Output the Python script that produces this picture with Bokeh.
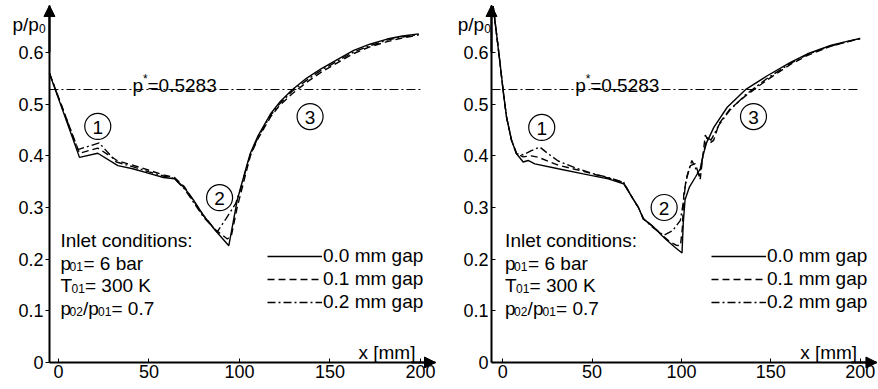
from bokeh.plotting import figure
from bokeh.layouts import row
from bokeh.models import Range1d, FixedTicker, Label, Arrow, NormalHead
from bokeh.embed import file_html
from bokeh.resources import INLINE

FONT = "Liberation Sans"

# ---------------- data ----------------
series_labels = ["0.0 mm gap", "0.1 mm gap", "0.2 mm gap"]
x_ticks = [0, 50, 100, 150, 200]
y_ticks = [0, 0.1, 0.2, 0.3, 0.4, 0.5, 0.6]
y_tick_labels = ["0", "0.1", "0.2", "0.3", "0.4", "0.5", "0.6"]
p_star = 0.5283

# left panel
xL0 = [-5, 11.6, 21.7, 32.8, 41, 50, 58, 64.1, 69.6, 74.8, 80, 86.7, 94.1, 98.7, 103.3, 106, 110, 117.1, 122, 129.1, 137, 144.8, 155, 163.1, 172, 181.6, 190, 199]
yL0 = [0.56, 0.397, 0.405, 0.381, 0.375, 0.366, 0.358, 0.3555, 0.338, 0.3135, 0.285, 0.2555, 0.226, 0.3135, 0.372, 0.405, 0.437, 0.481, 0.503, 0.528, 0.550, 0.568, 0.588, 0.604, 0.616, 0.626, 0.632, 0.636]
xL1 = [-5, 11.6, 21.7, 32.8, 41, 50, 58, 64.1, 69.6, 74.8, 80, 86.7, 93.3, 95.5, 98.7, 103.3, 106, 110, 117.1, 122, 129.1, 137, 144.8, 155, 163.1, 172, 181.6, 190, 199]
yL1 = [0.56, 0.405, 0.415, 0.39, 0.382, 0.372, 0.363, 0.358, 0.34, 0.312, 0.285, 0.257, 0.239, 0.245, 0.30, 0.363, 0.40, 0.432, 0.475, 0.497, 0.52, 0.542, 0.561, 0.582, 0.598, 0.611, 0.621, 0.628, 0.634]
xL2 = [-5, 10.7, 22.5, 32, 41, 50, 58, 64.1, 69.6, 74.8, 80, 87.7, 92.5, 97.8, 100.5, 103.3, 106, 110, 117.1, 122, 129.1, 137, 144.8, 155, 163.1, 172, 181.6, 190, 199]
yL2 = [0.56, 0.412, 0.425, 0.388, 0.379, 0.369, 0.361, 0.356, 0.336, 0.309, 0.282, 0.253, 0.278, 0.307, 0.335, 0.37, 0.402, 0.434, 0.478, 0.50, 0.525, 0.546, 0.565, 0.585, 0.601, 0.613, 0.624, 0.630, 0.635]

# right panel
xR0 = [-5.4, -3.5, -1.7, 0.2, 2.1, 4.9, 7.7, 11.4, 14.2, 17.9, 31, 45, 59, 67.6, 72.3, 75.9, 78.7, 84.5, 89, 92, 96, 100.3, 101, 102, 104.5, 108, 110.5, 112, 114, 118.1, 125.6, 135.8, 148, 161, 170.3, 183.4, 192, 200]
yR0 = [0.69, 0.636, 0.584, 0.526, 0.475, 0.43, 0.404, 0.388, 0.391, 0.3845, 0.375, 0.365, 0.3555, 0.346, 0.32, 0.30, 0.278, 0.262, 0.246, 0.236, 0.224, 0.212, 0.27, 0.315, 0.34, 0.36, 0.375, 0.40, 0.425, 0.455, 0.494, 0.528, 0.555, 0.581, 0.597, 0.6135, 0.621, 0.627]
xR1 = [-5.4, -3.5, -1.7, 0.2, 2.1, 4.9, 7.7, 11.4, 16, 20, 31, 45, 59, 67.6, 72.3, 75.9, 78.7, 84.5, 89, 93, 97, 99.4, 100.5, 101.3, 103, 105, 107.7, 110.5, 113.3, 116, 118, 121, 127, 135.8, 148, 161, 170.3, 183.4, 192, 200]
yR1 = [0.69, 0.636, 0.584, 0.526, 0.475, 0.43, 0.404, 0.398, 0.40, 0.397, 0.382, 0.37, 0.357, 0.348, 0.32, 0.30, 0.278, 0.262, 0.247, 0.235, 0.227, 0.226, 0.26, 0.326, 0.36, 0.381, 0.385, 0.355, 0.44, 0.425, 0.43, 0.462, 0.49, 0.516, 0.547, 0.577, 0.594, 0.612, 0.62, 0.627]
xR2 = [-5.4, -3.5, -1.7, 0.2, 2.1, 4.9, 7.7, 11.4, 16, 20.7, 25, 31, 40.3, 50, 59, 67.6, 72.3, 75.9, 78.7, 84.5, 90, 95, 99.4, 101.5, 102.2, 104.1, 105.8, 108, 110, 112, 114.5, 116.5, 118, 121, 127, 135.8, 148, 161, 170.3, 183.4, 192, 200]
yR2 = [0.69, 0.636, 0.584, 0.526, 0.475, 0.43, 0.404, 0.402, 0.41, 0.417, 0.405, 0.39, 0.377, 0.366, 0.358, 0.349, 0.32, 0.30, 0.278, 0.26, 0.246, 0.255, 0.275, 0.32, 0.346, 0.372, 0.391, 0.375, 0.36, 0.40, 0.437, 0.43, 0.44, 0.46, 0.488, 0.518, 0.55, 0.579, 0.596, 0.6125, 0.62, 0.627]

circle_labels = ["1", "2", "3"]
circL_x = [21.7, 89, 139]
circL_y = [0.457, 0.319, 0.476]
circR_x = [21.8, 90.3, 140.3]
circR_y = [0.455, 0.30, 0.476]

inlet_lines = ["Inlet conditions:", "p|01|= 6 bar", "T|01|= 300 K", "p|02|/p|01|= 0.7"]

DASHES = ["solid", "7 4", "8 3 2 3"]
FS = 19     # annotation font size
FSUB = 12   # subscript size


def txt(p, x, y, pieces, align="left", baseline="alphabetic"):
    """pieces: list of (text, dx, dy, size)"""
    for t, dx, dy, size in pieces:
        p.add_layout(Label(x=x, y=y, text=t, x_offset=dx, y_offset=dy,
                           text_font=FONT, text_font_size=f"{size}px",
                           text_align=align, text_baseline=baseline,
                           text_color="black"))


def make_panel(width, xr, yax_x, x_arrow_end, series, circ_x, circ_y,
               ytick_inside, legend_x, ylab_x, pstar_x, inlet_x, xlab_x):
    y_lo, y_hi, y_arrow_end = -0.0503, 0.7006, 0.691
    p = figure(width=width, height=388, x_range=Range1d(*xr),
               y_range=Range1d(y_lo, y_hi), output_backend="svg",
               toolbar_location=None, min_border_left=0, min_border_right=0,
               min_border_top=0, min_border_bottom=0)
    p.outline_line_color = None
    p.grid.visible = False
    p.background_fill_color = "white"
    p.border_fill_color = "white"

    xa = p.xaxis[0]
    ya = p.yaxis[0]
    for ax in (xa, ya):
        ax.axis_line_width = 2
        ax.axis_line_color = "black"
        ax.major_tick_line_color = "black"
        ax.major_tick_line_width = 1
        ax.minor_tick_line_color = None
        ax.major_label_text_font = FONT
        ax.major_label_text_font_size = "18px"
        ax.major_label_text_color = "black"

    xa.fixed_location = 0
    xa.bounds = (yax_x, x_arrow_end)
    xa.ticker = FixedTicker(ticks=x_ticks)
    xa.major_tick_in = 4
    xa.major_tick_out = 0
    xa.major_label_standoff = 2

    ya.fixed_location = yax_x
    ya.bounds = (0, y_arrow_end)
    ya.ticker = FixedTicker(ticks=y_ticks)
    ya.major_label_overrides = {t: l for t, l in zip(y_ticks, y_tick_labels)}
    if ytick_inside:
        ya.major_tick_in = 4
        ya.major_tick_out = 0
        ya.major_label_standoff = 3
    else:
        ya.major_tick_in = 0
        ya.major_tick_out = 4
        ya.major_label_standoff = 2

    # axis arrows
    head = dict(size=11, fill_color="black", line_color="black", line_width=1)
    p.add_layout(Arrow(end=NormalHead(**head), x_start=yax_x, y_start=0.6,
                       x_end=yax_x, y_end=y_arrow_end, line_width=2,
                       line_color="black"))
    p.add_layout(Arrow(end=NormalHead(**head), x_start=195, y_start=0,
                       x_end=x_arrow_end, y_end=0, line_width=2,
                       line_color="black"))

    # p* line
    p.line([yax_x, 200], [p_star, p_star], line_color="black", line_width=1,
           line_dash="9 3 2 3")

    # series
    for (xs, ys), lab, dash in zip(series, series_labels, DASHES):
        p.line(xs, ys, line_color="black", line_width=1.4, line_dash=dash,
               legend_label=lab)

    leg = p.legend[0]
    leg.location = (legend_x, 75)
    leg.glyph_width = 55
    leg.glyph_height = 22
    leg.label_height = 22
    leg.spacing = 1
    leg.padding = 0
    leg.margin = 0
    leg.label_standoff = 1
    leg.border_line_alpha = 0
    leg.background_fill_alpha = 0
    leg.label_text_font = FONT
    leg.label_text_font_size = "19px"
    leg.label_text_color = "black"

    # circled numbers
    p.scatter(circ_x, circ_y, marker="circle", size=26, fill_color=None,
              line_color="black", line_width=1.2)
    for cx, cy, t in zip(circ_x, circ_y, circle_labels):
        txt(p, cx, cy, [(t, 0, -1, FS)], align="center", baseline="middle")

    # y label p/p0
    txt(p, ylab_x, 0.655, [("p/p", 0, 0, FS), ("0", 26.5, -4, FSUB)])
    # x label
    txt(p, xlab_x, 0.0195, [("x [mm]", 0, 0, FS)], align="right")
    # p* label
    txt(p, pstar_x, 0.536, [("p", 0, 0, FS), ("*", 10.5, 7, FSUB),
                            ("=0.5283", 15, 0, FS)])

    # inlet conditions block
    inlet_y = [0.236, 0.191, 0.149, 0.105]
    txt(p, inlet_x, inlet_y[0], [(inlet_lines[0], 0, 0, FS)])
    a, s, b = inlet_lines[1].split("|")
    txt(p, inlet_x, inlet_y[1], [(a, 0, 0, FS), (s, 9, -3, FSUB), (b, 23, 0, FS)])
    a, s, b = inlet_lines[2].split("|")
    txt(p, inlet_x, inlet_y[2], [(a, 0, 0, FS), (s, 11, -3, FSUB), (b, 24.5, 0, FS)])
    a, s1, m, s2, b = inlet_lines[3].split("|")
    txt(p, inlet_x, inlet_y[3], [(a, 0, 0, FS), (s1, 9, -3, FSUB), (m, 22.5, 0, FS),
                                 (s2, 37.5, -3, FSUB), (b, 51, 0, FS)])
    return p


pL = make_panel(439, (-32.04, 210.5), -5.0, 208.3,
                [(xL0, yL0), (xL1, yL1), (xL2, yL2)], circL_x, circL_y,
                False, 267, -25.4, 40.9, 1.1, 197.2)
pR = make_panel(438, (-35.42, 209.7), -6.32, 209.4,
                [(xR0, yR0), (xR1, yR1), (xR2, yR2)], circR_x, circR_y,
                True, 272, -25.2, 40.5, 1.3, 198.3)

layout = row(pL, pR)
open("out.html", "w").write(file_html(layout, INLINE))
